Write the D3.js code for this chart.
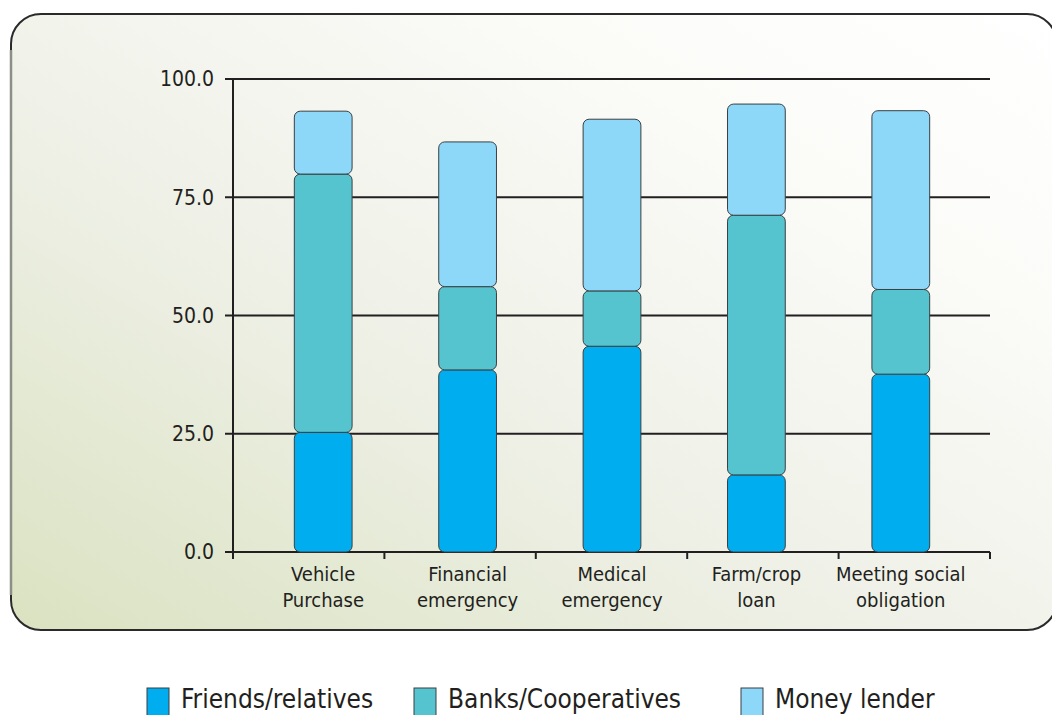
<!DOCTYPE html>
<html>
<head>
<meta charset="utf-8">
<script src="https://cdn.jsdelivr.net/npm/d3@7"></script>
<style>
  html, body { margin: 0; padding: 0; background: #ffffff; }
  svg { display: block; }
  text { font-family: "DejaVu Sans Condensed", "Liberation Sans", sans-serif; fill: #231f20; }
</style>
</head>
<body>
<svg id="chart" width="1052" height="715"></svg>
<script>
const categories = [["Vehicle", "Purchase"], ["Financial", "emergency"], ["Medical", "emergency"], ["Farm/crop", "loan"], ["Meeting social", "obligation"]];
const seriesNames = ["Friends/relatives", "Banks/Cooperatives", "Money lender"];
const friends = [25.3, 38.5, 43.5, 16.3, 37.6];
const banks = [54.6, 17.6, 11.7, 54.9, 17.9];
const moneyLender = [13.3, 30.6, 36.3, 23.5, 37.8];
const yTicks = [0, 25, 50, 75, 100];
const colors = ["#00aeef", "#55c4cf", "#8dd8f8"];

const svg = d3.select("#chart");

// panel background
const defs = svg.append("defs");
const grad = defs.append("linearGradient").attr("id", "bg")
  .attr("x1", "0").attr("y1", "1").attr("x2", "1").attr("y2", "0");
grad.append("stop").attr("offset", "0").attr("stop-color", "#dae2c1");
grad.append("stop").attr("offset", "0.4").attr("stop-color", "#eef0e6");
grad.append("stop").attr("offset", "0.75").attr("stop-color", "#fbfbf8");
grad.append("stop").attr("offset", "1").attr("stop-color", "#ffffff");

svg.append("rect")
  .attr("x", 11).attr("y", 14).attr("width", 1046).attr("height", 616)
  .attr("rx", 30).attr("ry", 30)
  .attr("fill", "url(#bg)")
  .attr("stroke", "#2a2a2a").attr("stroke-width", 2);
// softer left edge
svg.append("line").attr("x1", 11).attr("x2", 11).attr("y1", 50).attr("y2", 595)
  .attr("stroke", "#8a8f88").attr("stroke-width", 2.5);

const x0 = 233, x1 = 990;
const y = d3.scaleLinear().domain([0, 100]).range([552, 79]);
const xBand = d3.scaleBand().domain(d3.range(categories.length))
  .range([251, 973]).paddingInner(0.6).paddingOuter(0.3);
const xTick = d3.scaleLinear().domain([0, categories.length]).range([x0, x1]);

// gridlines
const g = svg.append("g");
g.selectAll("line.grid").data(yTicks).enter().append("line")
  .attr("class", "grid")
  .attr("x1", x0 - 8).attr("x2", x1)
  .attr("y1", d => y(d)).attr("y2", d => y(d))
  .attr("stroke", "#231f20").attr("stroke-width", 2);

// y axis line
g.append("line").attr("x1", x0).attr("x2", x0).attr("y1", y(100) - 1).attr("y2", y(0) + 7)
  .attr("stroke", "#231f20").attr("stroke-width", 2);

// y labels
g.selectAll("text.ylab").data(yTicks).enter().append("text")
  .attr("x", 214).attr("y", d => y(d)).attr("dy", "0.35em")
  .attr("text-anchor", "end").attr("font-size", 21)
  .text(d => d.toFixed(1));

// x ticks
g.selectAll("line.xt").data(d3.range(1, categories.length + 1)).enter().append("line")
  .attr("x1", d => xTick(d)).attr("x2", d => xTick(d))
  .attr("y1", y(0)).attr("y2", y(0) + 7)
  .attr("stroke", "#231f20").attr("stroke-width", 2);

// stacked bars
const stackData = categories.map((c, i) => [friends[i], banks[i], moneyLender[i]]);
stackData.forEach((vals, i) => {
  let base = 0;
  vals.forEach((v, s) => {
    const top = base + v;
    g.append("rect")
      .attr("x", xBand(i)).attr("width", xBand.bandwidth())
      .attr("y", y(top)).attr("height", y(base) - y(top))
      .attr("rx", 6).attr("ry", 6)
      .attr("fill", colors[s])
      .attr("stroke", "#3a3f42").attr("stroke-width", 1);
    base = top;
  });
});

// category labels
categories.forEach((lines, i) => {
  const t = g.append("text").attr("text-anchor", "middle").attr("font-size", 20);
  lines.forEach((ln, k) => {
    t.append("tspan").attr("x", xBand(i) + xBand.bandwidth() / 2)
      .attr("y", 581 + k * 26).text(ln);
  });
});

// legend
const legendX = [147, 414, 741];
const lg = svg.append("g");
seriesNames.forEach((name, s) => {
  lg.append("rect").attr("x", legendX[s]).attr("y", 688).attr("width", 22).attr("height", 28)
    .attr("fill", colors[s]).attr("stroke", "#3a3f42").attr("stroke-width", 1);
  lg.append("text").attr("x", legendX[s] + 34).attr("y", 708)
    .attr("font-size", 26).text(name);
});
</script>
</body>
</html>
